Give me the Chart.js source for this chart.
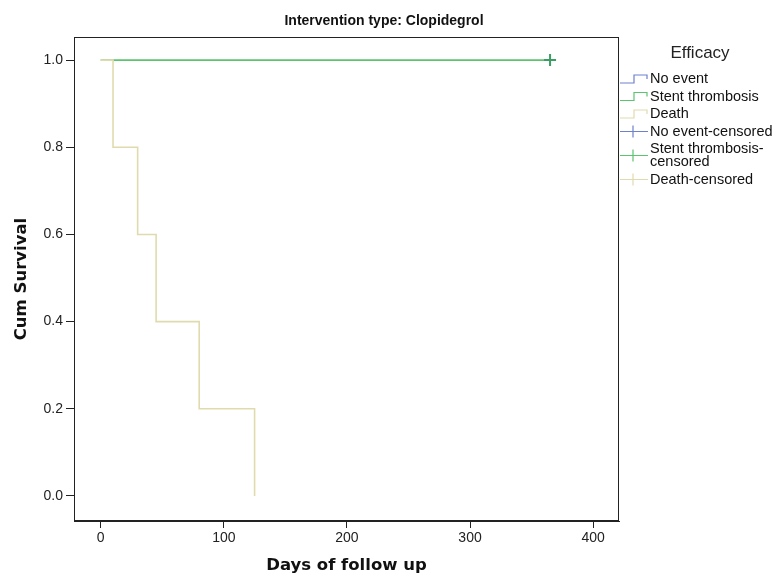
<!DOCTYPE html>
<html>
<head>
<meta charset="utf-8">
<script src="https://cdn.jsdelivr.net/npm/chart.js@4.4.1/dist/chart.umd.min.js"></script>
<style>
  html, body { margin: 0; padding: 0; background: #fff; }
  #wrap { width: 776px; height: 576px; }
</style>
</head>
<body>
<div id="wrap"><canvas id="kmChart" width="776" height="576"></canvas></div>
<script>
// Kaplan-Meier data
const deathDays = [0, 10, 30, 45, 80, 125];
const deathSurv = [1.0, 0.8, 0.6, 0.4, 0.2, 0.0];
const stentDays = [0, 365];
const stentSurv = [1.0, 1.0];
const stentCensDays = [365];
const stentCensSurv = [1.0];
const xTicks = [0, 100, 200, 300, 400];
const yTicks = [0.0, 0.2, 0.4, 0.6, 0.8, 1.0];

const colBlue = '#6f80cc';
const colGreen = '#5cc46e';
const colTan = '#e0dbae';

function pts(xs, ys) {
  return xs.map((x, i) => ({ x: x, y: ys[i] }));
}

// legend entries (label lines, colour, kind)
const legendItems = [
  { lines: ['No event'], color: colBlue, kind: 'step' },
  { lines: ['Stent thrombosis'], color: colGreen, kind: 'step' },
  { lines: ['Death'], color: colTan, kind: 'step' },
  { lines: ['No event-censored'], color: colBlue, kind: 'cens' },
  { lines: ['Stent thrombosis-', 'censored'], color: colGreen, kind: 'cens' },
  { lines: ['Death-censored'], color: colTan, kind: 'cens' }
];

const extras = {
  id: 'extras',
  afterDraw(chart) {
    const ctx = chart.ctx;
    const a = chart.chartArea;
    ctx.save();
    // frame
    ctx.strokeStyle = '#222';
    ctx.lineWidth = 1;
    ctx.strokeRect(Math.round(a.left) + 0.5, Math.round(a.top) + 0.5,
      Math.round(a.right - a.left) - 1, Math.round(a.bottom - a.top) - 1);
    // title
    ctx.fillStyle = '#111';
    ctx.font = 'bold 14px "Liberation Sans", Arial, sans-serif';
    ctx.textAlign = 'center';
    ctx.textBaseline = 'middle';
    ctx.fillText('Intervention type: Clopidegrol', 384, 21);
    // legend
    ctx.font = '17px "Liberation Sans", Arial, sans-serif';
    ctx.fillStyle = '#222';
    ctx.fillText('Efficacy', 700, 53);
    ctx.textAlign = 'left';
    ctx.font = '14.5px "Liberation Sans", Arial, sans-serif';
    let y = 79;
    legendItems.forEach(it => {
      const h = it.lines.length * 13;
      const cy = y + (it.lines.length - 1) * 6.5;
      ctx.strokeStyle = it.color;
      ctx.lineWidth = 1.2;
      ctx.beginPath();
      if (it.kind === 'step') {
        ctx.moveTo(620, cy + 4);
        ctx.lineTo(634, cy + 4);
        ctx.lineTo(634, cy - 4);
        ctx.lineTo(647, cy - 4);
        ctx.lineTo(647, cy);
      } else {
        ctx.moveTo(620, cy);
        ctx.lineTo(648, cy);
        ctx.moveTo(633, cy - 6);
        ctx.lineTo(633, cy + 6);
      }
      ctx.stroke();
      ctx.fillStyle = '#111';
      it.lines.forEach((ln, j) => ctx.fillText(ln, 650, y + j * 13));
      y += h + 4.5;
    });
    ctx.restore();
  }
};

const ctx = document.getElementById('kmChart').getContext('2d');
new Chart(ctx, {
  type: 'line',
  data: {
    datasets: [
      {
        label: 'Stent thrombosis-censored',
        type: 'scatter',
        data: pts(stentCensDays, stentCensSurv),
        pointStyle: 'cross',
        pointRadius: 6,
        borderColor: '#3a9e62',
        borderWidth: 2,
        showLine: false
      },
      {
        label: 'Death',
        data: pts(deathDays, deathSurv),
        stepped: 'before',
        borderColor: colTan,
        borderWidth: 1.6,
        pointRadius: 0,
        fill: false
      },
      {
        label: 'Stent thrombosis',
        data: pts(stentDays, stentSurv),
        stepped: 'before',
        borderColor: colGreen,
        borderWidth: 1.6,
        pointRadius: 0,
        fill: false
      }
    ]
  },
  options: {
    responsive: false,
    animation: false,
    layout: { padding: { top: 37, right: 157, left: 0, bottom: 0 } },
    plugins: {
      legend: { display: false },
      tooltip: { enabled: false }
    },
    scales: {
      x: {
        type: 'linear',
        min: -21.7,
        max: 421,
        afterBuildTicks: s => { s.ticks = xTicks.map(v => ({ value: v })); },
        afterFit: s => { s.height = 55; },
        grid: { drawOnChartArea: false, drawTicks: true, tickLength: 7, color: '#222' },
        border: { display: true, color: '#222' },
        ticks: {
          padding: 2,
          color: '#222',
          font: { family: '"Liberation Sans", Arial, sans-serif', size: 14 },
          callback: v => String(v)
        },
        title: {
          display: true,
          text: 'Days of follow up',
          color: '#111',
          font: { family: '"DejaVu Sans", sans-serif', size: 16.5, weight: 'bold' },
          padding: { top: 0, bottom: 0 }
        }
      },
      y: {
        type: 'linear',
        min: -0.0575,
        max: 1.053,
        afterBuildTicks: s => { s.ticks = yTicks.map(v => ({ value: v })); },
        afterFit: s => { s.width = 74; },
        grid: { drawOnChartArea: false, drawTicks: true, tickLength: 8, color: '#222' },
        border: { display: true, color: '#222' },
        ticks: {
          padding: 3,
          color: '#222',
          font: { family: '"Liberation Sans", Arial, sans-serif', size: 14 },
          callback: v => Number(v).toFixed(1)
        },
        title: {
          display: true,
          text: 'Cum Survival',
          color: '#111',
          font: { family: '"DejaVu Sans", sans-serif', size: 16.5, weight: 'bold' },
          padding: { top: 12, bottom: 0 }
        }
      }
    }
  },
  plugins: [extras]
});
</script>
</body>
</html>
